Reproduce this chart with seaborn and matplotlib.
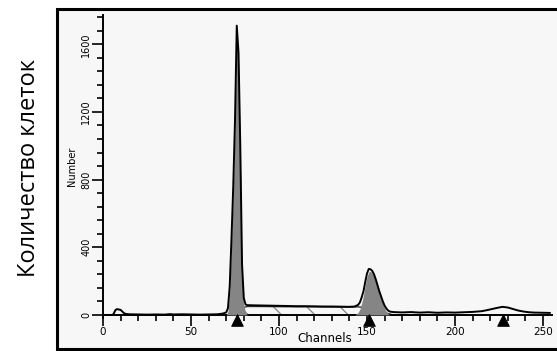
import numpy as np
import pandas as pd
import matplotlib
matplotlib.use("Agg")
import matplotlib.pyplot as plt
from matplotlib.patches import Rectangle
from matplotlib.ticker import MultipleLocator
import seaborn as sns

# ---- data ----
hist_ch = [0, 5, 6, 7, 8, 9, 10, 11, 12, 13, 15, 20, 25, 30, 35, 38, 40, 45, 50, 55, 60, 65, 68,
           70, 71, 72, 73, 74, 75, 76, 77, 78, 79, 80, 81, 82, 85, 90, 95, 100, 105, 110, 115,
           120, 125, 130, 135, 140, 143, 145, 146, 147, 148, 149, 150, 151, 152, 153, 154, 155,
           156, 157, 158, 159, 160, 161, 162, 163, 165, 170, 175, 180, 185, 190, 195, 200, 205,
           210, 215, 218, 221, 224, 227, 230, 233, 236, 239, 242, 245, 250, 254]
hist_cnt = [0, 0, 5, 28, 35, 32, 30, 20, 10, 6, 4, 3, 2, 3, 2, 5, 3, 4, 3, 2, 3, 4, 8,
            15, 40, 170, 450, 760, 1150, 1710, 1550, 1000, 300, 100, 62, 58, 57, 56, 55, 54, 53,
            52, 52, 51, 50, 50, 49, 48, 50, 60, 75, 105, 140, 195, 245, 272, 270, 260, 240, 210,
            175, 140, 110, 80, 55, 38, 26, 20, 17, 15, 17, 14, 16, 13, 15, 14, 16,
            18, 22, 28, 35, 42, 48, 44, 35, 26, 20, 16, 14, 13, 12]

g1_ch = [70, 71, 72, 73, 74, 75, 76, 77, 78, 79, 80, 81, 82]
g1_cnt = [0, 20, 140, 420, 730, 1120, 1680, 1510, 960, 260, 60, 15, 0]

g2_ch = [143, 145, 146, 147, 148, 149, 150, 151, 152, 153, 154, 155, 156, 157, 158, 159, 160, 161, 162, 163]
g2_cnt = [0, 15, 35, 70, 115, 175, 225, 255, 258, 245, 225, 195, 160, 125, 95, 65, 40, 20, 8, 0]

s_ch = [74, 76, 78, 80, 82, 90, 100, 110, 120, 130, 140, 145, 148, 151, 154, 157, 159, 162, 165]
s_cnt = [0, 25, 38, 45, 50, 50, 49, 48, 48, 47, 47, 48, 44, 38, 30, 22, 18, 8, 0]

marker_ch = [76, 151, 227]

x_major = [0, 50, 100, 150, 200, 250]
y_major = [0, 400, 800, 1200, 1600]

hist = pd.DataFrame({"Channels": hist_ch, "Number": hist_cnt})
marks = pd.DataFrame({"Channels": marker_ch, "y": [-30] * len(marker_ch)})

# ---- figure ----
sns.set_theme(style="white")
plt.rcParams["font.family"] = ["DejaVu Sans"]
plt.rcParams["text.color"] = "black"
plt.rcParams["xtick.color"] = "black"
plt.rcParams["ytick.color"] = "black"
plt.rcParams["hatch.linewidth"] = 1.0
W, H = 557, 351
fig = plt.figure(figsize=(W / 100, H / 100), dpi=100, facecolor="white")

# grey panel with black frame
fig.patches.append(Rectangle((57 / W, 1 - 349 / H), (W - 57) / W + 0.01, (349 - 9) / H,
                             transform=fig.transFigure, facecolor="#f7f7f7",
                             edgecolor="black", linewidth=2.2, zorder=-5))

ax_left, ax_right = 103, 551.8
ax_top, ax_bot = 15, 318
ax = fig.add_axes([ax_left / W, 1 - ax_bot / H, (ax_right - ax_left) / W, (ax_bot - ax_top) / H])
ax.set_facecolor("none")
ax.set_zorder(2)

# S-phase hatched region
ax.fill_between(s_ch, 0, s_cnt, facecolor="none", edgecolor="#8c8c8c", hatch="\\",
                linewidth=0, zorder=1)
ax.plot(s_ch, s_cnt, color="#333333", linewidth=1.0, zorder=2)

# G1 and G2 grey fills
ax.fill_between(g1_ch, 0, g1_cnt, facecolor="#858585", linewidth=0, zorder=3)
ax.fill_between(g2_ch, 0, g2_cnt, facecolor="#858585", linewidth=0, zorder=3)

# histogram outline
sns.lineplot(data=hist, x="Channels", y="Number", color="black", linewidth=1.4,
             ax=ax, zorder=4)

# peak markers
sns.scatterplot(data=marks, x="Channels", y="y", marker="^", s=70, color="black",
                edgecolor="black", ax=ax, zorder=5, clip_on=False, legend=False)

ax.set_xlim(0, 255)
ax.set_ylim(-18, 1773)

for s in ["top", "right"]:
    ax.spines[s].set_visible(False)
ax.spines["bottom"].set_position(("data", 0))
ax.spines["left"].set_color("black")
ax.spines["bottom"].set_color("black")
ax.spines["left"].set_linewidth(1.4)
ax.spines["bottom"].set_linewidth(1.4)

ax.set_xticks(x_major)
ax.set_xticklabels([str(v) for v in x_major])
ax.xaxis.set_minor_locator(MultipleLocator(10))
ax.set_yticks(y_major)
ax.set_yticklabels([str(v) for v in y_major], rotation=90, va="center")
ax.yaxis.set_minor_locator(MultipleLocator(80))

ax.tick_params(axis="both", which="major", direction="out", length=8, width=1.2,
               color="black", labelsize=7.5, pad=1, labelcolor="black")
ax.tick_params(axis="both", which="minor", direction="out", length=4.5, width=1.2,
               color="black")
ax.tick_params(axis="y", which="major", labelsize=7, pad=0.5)
ax.tick_params(axis="x", which="both", bottom=True)
ax.tick_params(axis="y", which="both", left=True)

ax.set_xlabel("")
ax.set_ylabel("")

fig.text(325 / W, 1 - 339 / H, "Channels", ha="center", va="center", fontsize=8.5, color="black")
fig.text(72 / W, 1 - 166 / H, "Number", ha="center", va="center", rotation=90, fontsize=7,
         color="black")
fig.text(29 / W, 1 - 168 / H, "Количество клеток", ha="center", va="center",
         rotation=90, fontsize=17, family=["Open Sans", "DejaVu Sans"], color="black")

fig.savefig("out.png", dpi=100, facecolor="white")
